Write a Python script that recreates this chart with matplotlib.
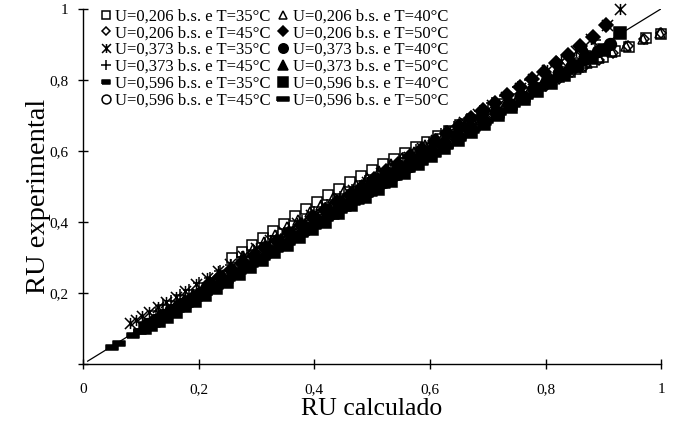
#!/usr/bin/env python3
"""RU experimental vs RU calculado for twelve drying conditions."""

import matplotlib
matplotlib.use("Agg")
import matplotlib.pyplot as plt
from matplotlib.path import Path

plt.rcParams["font.family"] = ["Liberation Serif", "DejaVu Serif"]

labels = [
    "U=0,206 b.s. e T=35°C", "U=0,206 b.s. e T=40°C",
    "U=0,206 b.s. e T=45°C", "U=0,206 b.s. e T=50°C",
    "U=0,373 b.s. e T=35°C", "U=0,373 b.s. e T=40°C",
    "U=0,373 b.s. e T=45°C", "U=0,373 b.s. e T=50°C",
    "U=0,596 b.s. e T=35°C", "U=0,596 b.s. e T=40°C",
    "U=0,596 b.s. e T=45°C", "U=0,596 b.s. e T=50°C",
]

# RU calculado / RU experimental per series
calc_206_35 = [1.000, 0.973, 0.945, 0.921, 0.900, 0.880, 0.861, 0.842, 0.823, 0.804,
               0.785, 0.766, 0.747, 0.728, 0.709, 0.690, 0.671, 0.652, 0.633, 0.614,
               0.595, 0.576, 0.557, 0.538, 0.519, 0.500, 0.481, 0.462, 0.443, 0.424,
               0.405, 0.386, 0.367, 0.348, 0.329, 0.311, 0.293, 0.275, 0.258]
exp_206_35 = [0.930, 0.918, 0.893, 0.881, 0.865, 0.850, 0.836, 0.822, 0.807, 0.792,
              0.777, 0.762, 0.747, 0.732, 0.717, 0.702, 0.687, 0.672, 0.657, 0.642,
              0.626, 0.610, 0.594, 0.578, 0.562, 0.545, 0.528, 0.511, 0.493, 0.475,
              0.456, 0.436, 0.416, 0.395, 0.374, 0.354, 0.335, 0.316, 0.298]

calc_206_40 = [0.998, 0.968, 0.940, 0.915, 0.893, 0.872, 0.852, 0.832, 0.812, 0.792,
               0.772, 0.752, 0.732, 0.712, 0.692, 0.672, 0.652, 0.632, 0.612, 0.592,
               0.572, 0.552, 0.532, 0.512, 0.492, 0.472, 0.452, 0.432, 0.412, 0.392,
               0.372, 0.352, 0.332, 0.313, 0.294, 0.276]
exp_206_40 = [0.932, 0.914, 0.894, 0.877, 0.861, 0.846, 0.831, 0.816, 0.800, 0.784,
              0.768, 0.752, 0.736, 0.720, 0.703, 0.686, 0.669, 0.652, 0.634, 0.616,
              0.598, 0.580, 0.562, 0.543, 0.524, 0.505, 0.486, 0.467, 0.447, 0.427,
              0.406, 0.385, 0.364, 0.344, 0.324, 0.305]

calc_206_45 = [1.000, 0.970, 0.942, 0.916, 0.892, 0.869, 0.846, 0.823, 0.800, 0.777,
               0.754, 0.731, 0.708, 0.685, 0.662, 0.639, 0.616, 0.593, 0.570, 0.547,
               0.524, 0.501, 0.478, 0.455, 0.432, 0.409, 0.386, 0.364, 0.342, 0.320,
               0.299, 0.278, 0.258, 0.238]
exp_206_45 = [0.932, 0.914, 0.894, 0.875, 0.857, 0.839, 0.821, 0.802, 0.783, 0.764,
              0.744, 0.724, 0.704, 0.683, 0.662, 0.641, 0.620, 0.599, 0.578, 0.556,
              0.534, 0.512, 0.490, 0.467, 0.444, 0.421, 0.398, 0.375, 0.352, 0.329,
              0.307, 0.285, 0.264, 0.243]

calc_206_50 = [0.905, 0.882, 0.860, 0.839, 0.818, 0.797, 0.776, 0.755, 0.734, 0.713,
               0.692, 0.671, 0.650, 0.629, 0.608, 0.587, 0.566, 0.545, 0.524, 0.503,
               0.482, 0.461, 0.440, 0.419, 0.398, 0.377, 0.356, 0.335, 0.315, 0.295,
               0.275, 0.256, 0.237, 0.219]
exp_206_50 = [0.955, 0.922, 0.894, 0.869, 0.846, 0.823, 0.801, 0.779, 0.757, 0.735,
              0.714, 0.692, 0.671, 0.649, 0.628, 0.606, 0.585, 0.563, 0.542, 0.520,
              0.499, 0.477, 0.456, 0.434, 0.413, 0.391, 0.369, 0.347, 0.326, 0.305,
              0.284, 0.264, 0.244, 0.225]

calc_373_35 = [0.929, 0.907, 0.878, 0.852, 0.827, 0.803, 0.779, 0.755, 0.731, 0.707,
               0.683, 0.659, 0.635, 0.611, 0.587, 0.563, 0.539, 0.515, 0.491, 0.467,
               0.443, 0.419, 0.395, 0.371, 0.347, 0.323, 0.300, 0.277, 0.255, 0.234,
               0.214, 0.195, 0.177, 0.160, 0.144, 0.129, 0.115, 0.102, 0.091, 0.081]
exp_373_35 = [1.000, 0.955, 0.914, 0.882, 0.854, 0.828, 0.803, 0.778, 0.753, 0.729,
              0.704, 0.680, 0.656, 0.632, 0.608, 0.584, 0.561, 0.537, 0.513, 0.490,
              0.466, 0.443, 0.419, 0.396, 0.372, 0.349, 0.326, 0.304, 0.282, 0.262,
              0.242, 0.224, 0.206, 0.190, 0.174, 0.160, 0.146, 0.134, 0.124, 0.115]

calc_373_40 = [0.912, 0.890, 0.868, 0.846, 0.824, 0.802, 0.780, 0.758, 0.736, 0.714,
               0.692, 0.670, 0.648, 0.626, 0.604, 0.582, 0.560, 0.538, 0.516, 0.494,
               0.472, 0.450, 0.428, 0.406, 0.384, 0.362, 0.341, 0.320, 0.299, 0.279,
               0.259, 0.240, 0.221, 0.203, 0.186, 0.169, 0.153, 0.138, 0.124, 0.111]
exp_373_40 = [0.902, 0.882, 0.861, 0.840, 0.818, 0.796, 0.774, 0.752, 0.730, 0.708,
              0.686, 0.664, 0.642, 0.620, 0.598, 0.576, 0.554, 0.532, 0.510, 0.488,
              0.466, 0.444, 0.422, 0.400, 0.378, 0.357, 0.336, 0.315, 0.295, 0.275,
              0.256, 0.237, 0.219, 0.201, 0.184, 0.168, 0.152, 0.138, 0.124, 0.112]

calc_373_45 = [0.885, 0.862, 0.840, 0.818, 0.796, 0.774, 0.752, 0.730, 0.708, 0.686,
               0.664, 0.642, 0.620, 0.598, 0.576, 0.554, 0.532, 0.510, 0.488, 0.466,
               0.444, 0.422, 0.400, 0.378, 0.357, 0.336, 0.315, 0.295, 0.275, 0.256,
               0.237, 0.219, 0.201, 0.184, 0.168, 0.153, 0.139, 0.126]
exp_373_45 = [0.912, 0.888, 0.867, 0.843, 0.823, 0.799, 0.779, 0.755, 0.735, 0.711,
              0.691, 0.667, 0.647, 0.623, 0.603, 0.579, 0.559, 0.535, 0.515, 0.491,
              0.471, 0.447, 0.427, 0.403, 0.384, 0.361, 0.342, 0.319, 0.301, 0.280,
              0.263, 0.243, 0.227, 0.208, 0.194, 0.177, 0.165, 0.150]

calc_373_50 = [0.868, 0.846, 0.824, 0.802, 0.780, 0.758, 0.736, 0.714, 0.692, 0.670,
               0.648, 0.626, 0.604, 0.582, 0.560, 0.538, 0.516, 0.494, 0.472, 0.450,
               0.428, 0.406, 0.384, 0.363, 0.342, 0.321, 0.301, 0.281, 0.262, 0.243,
               0.225, 0.207, 0.190, 0.174, 0.159, 0.145, 0.132]
exp_373_50 = [0.880, 0.857, 0.835, 0.813, 0.791, 0.768, 0.746, 0.724, 0.702, 0.679,
              0.657, 0.635, 0.613, 0.590, 0.568, 0.546, 0.524, 0.501, 0.479, 0.457,
              0.435, 0.412, 0.390, 0.369, 0.348, 0.326, 0.306, 0.286, 0.266, 0.247,
              0.228, 0.210, 0.193, 0.177, 0.161, 0.147, 0.134]

calc_596_35 = [0.895, 0.872, 0.850, 0.828, 0.806, 0.784, 0.762, 0.740, 0.718, 0.696,
               0.674, 0.652, 0.630, 0.608, 0.586, 0.564, 0.542, 0.520, 0.498, 0.476,
               0.454, 0.432, 0.410, 0.389, 0.368, 0.347, 0.327, 0.307, 0.287, 0.268,
               0.249, 0.231, 0.213, 0.196, 0.180, 0.164, 0.149, 0.135, 0.122, 0.110,
               0.099, 0.087, 0.062, 0.050]
exp_596_35 = [0.878, 0.856, 0.834, 0.812, 0.790, 0.768, 0.746, 0.724, 0.702, 0.680,
              0.658, 0.636, 0.614, 0.592, 0.570, 0.548, 0.526, 0.504, 0.482, 0.460,
              0.438, 0.417, 0.395, 0.374, 0.353, 0.333, 0.313, 0.293, 0.274, 0.255,
              0.237, 0.219, 0.202, 0.185, 0.169, 0.154, 0.140, 0.127, 0.114, 0.103,
              0.092, 0.082, 0.059, 0.048]

calc_596_40 = [0.929, 0.902, 0.878, 0.855, 0.832, 0.809, 0.786, 0.763, 0.740, 0.717,
               0.694, 0.671, 0.648, 0.625, 0.602, 0.579, 0.556, 0.533, 0.510, 0.487,
               0.464, 0.441, 0.418, 0.396, 0.374, 0.352, 0.331, 0.310, 0.289, 0.269,
               0.249, 0.230, 0.211, 0.193, 0.176, 0.160, 0.145, 0.131, 0.118, 0.107]
exp_596_40 = [0.932, 0.885, 0.861, 0.838, 0.815, 0.792, 0.769, 0.746, 0.723, 0.700,
              0.677, 0.654, 0.631, 0.608, 0.585, 0.562, 0.539, 0.516, 0.493, 0.470,
              0.447, 0.424, 0.401, 0.379, 0.357, 0.335, 0.314, 0.293, 0.272, 0.252,
              0.232, 0.213, 0.195, 0.178, 0.162, 0.147, 0.133, 0.120, 0.109, 0.101]

calc_596_45 = [0.875, 0.852, 0.829, 0.806, 0.783, 0.760, 0.737, 0.714, 0.691, 0.668,
               0.645, 0.622, 0.599, 0.576, 0.553, 0.530, 0.507, 0.484, 0.461, 0.438,
               0.415, 0.393, 0.371, 0.349, 0.328, 0.307, 0.286, 0.266, 0.246, 0.227,
               0.208, 0.190, 0.173, 0.157, 0.142, 0.128]
exp_596_45 = [0.868, 0.846, 0.823, 0.800, 0.777, 0.754, 0.731, 0.708, 0.685, 0.662,
              0.639, 0.616, 0.593, 0.570, 0.547, 0.524, 0.501, 0.478, 0.455, 0.432,
              0.409, 0.387, 0.365, 0.343, 0.322, 0.301, 0.280, 0.260, 0.240, 0.221,
              0.202, 0.185, 0.168, 0.152, 0.137, 0.124]

calc_596_50 = [0.858, 0.835, 0.812, 0.789, 0.766, 0.743, 0.720, 0.697, 0.674, 0.651,
               0.628, 0.605, 0.582, 0.559, 0.536, 0.513, 0.490, 0.467, 0.444, 0.421,
               0.399, 0.377, 0.355, 0.333, 0.312, 0.291, 0.270, 0.250, 0.230, 0.211,
               0.192, 0.174, 0.157, 0.141, 0.126, 0.112, 0.100]
exp_596_50 = [0.845, 0.822, 0.799, 0.776, 0.753, 0.730, 0.707, 0.684, 0.661, 0.638,
              0.615, 0.592, 0.569, 0.546, 0.523, 0.500, 0.477, 0.454, 0.431, 0.408,
              0.386, 0.364, 0.342, 0.320, 0.299, 0.278, 0.258, 0.238, 0.219, 0.200,
              0.182, 0.164, 0.148, 0.132, 0.118, 0.105, 0.094]

diag = [0.008, 1.0]  # y = x reference line

ticks = [0.0, 0.2, 0.4, 0.6, 0.8, 1.0]
xtick_labels = ["0", "0,2", "0,4", "0,6", "0,8", "1"]
ytick_labels = ["", "0,2", "0,4", "0,6", "0,8", "1"]

# Excel-style marker shapes
short_dash = Path([(-1, -0.45), (1, -0.45), (1, 0.45), (-1, 0.45), (-1, -0.45)])
long_dash = Path([(-1, -0.3), (1, -0.3), (1, 0.3), (-1, 0.3), (-1, -0.3)])
star = Path([(-1, -1), (1, 1), (-1, 1), (1, -1), (0, -1), (0, 1)],
            [Path.MOVETO, Path.LINETO, Path.MOVETO, Path.LINETO, Path.MOVETO, Path.LINETO])

# marker, size, filled
styles = [
    ("s", 7.5, False), ("^", 7.5, False), ("D", 5.5, False), ("D", 7.0, True),
    (star, 8.0, False), ("o", 8.5, True), ("+", 8.5, False), ("^", 8.5, True),
    (short_dash, 8.0, True), ("s", 8.5, True), ("o", 8.0, False), (long_dash, 10.0, True),
]

series = [
    (calc_206_35, exp_206_35), (calc_206_40, exp_206_40), (calc_206_45, exp_206_45), (calc_206_50, exp_206_50),
    (calc_373_35, exp_373_35), (calc_373_40, exp_373_40), (calc_373_45, exp_373_45), (calc_373_50, exp_373_50),
    (calc_596_35, exp_596_35), (calc_596_40, exp_596_40), (calc_596_45, exp_596_45), (calc_596_50, exp_596_50),
]

fig = plt.figure(figsize=(6.77, 4.29), dpi=100)
ax = fig.add_axes([0.1226, 0.1515, 0.854, 0.828])

handles = []
for (xs, ys), (mk, ms, filled), lab in zip(series, styles, labels):
    h, = ax.plot(xs, ys, linestyle="none", marker=mk, markersize=ms,
                 markerfacecolor="black" if filled else "none",
                 markeredgecolor="black", markeredgewidth=1.1,
                 label=lab, clip_on=False)
    handles.append(h)

ax.plot(diag, diag, color="black", linewidth=0.9)

ax.set_xlim(0, 1)
ax.set_ylim(0, 1)
ax.set_xticks(ticks)
ax.set_xticklabels(xtick_labels)
ax.set_yticks(ticks)
ax.set_yticklabels(ytick_labels)
ax.tick_params(direction="inout", length=7, width=1, labelsize=11)
ax.tick_params(axis="x", pad=10)
ax.tick_params(axis="y", pad=7)
for side in ("top", "right"):
    ax.spines[side].set_visible(False)
for side in ("left", "bottom"):
    ax.spines[side].set_linewidth(1.0)

ax.set_xlabel("RU calculado", fontsize=18.5)
ax.set_ylabel("RU experimental", fontsize=20.5)
ax.xaxis.set_label_coords(0.5, -0.097)
ax.yaxis.set_label_coords(-0.055, 0.473)

# legend reads row by row in the original
order = [0, 2, 4, 6, 8, 10, 1, 3, 5, 7, 9, 11]
ax.legend([handles[i] for i in order], [labels[i] for i in order], ncol=2,
          loc="upper left", bbox_to_anchor=(0.017, 1.02), frameon=False,
          fontsize=12, labelspacing=0.05, handletextpad=0.15, handlelength=0.8,
          columnspacing=0.35, borderaxespad=0.0, markerscale=0.8)

fig.savefig("out.png", dpi=100)
